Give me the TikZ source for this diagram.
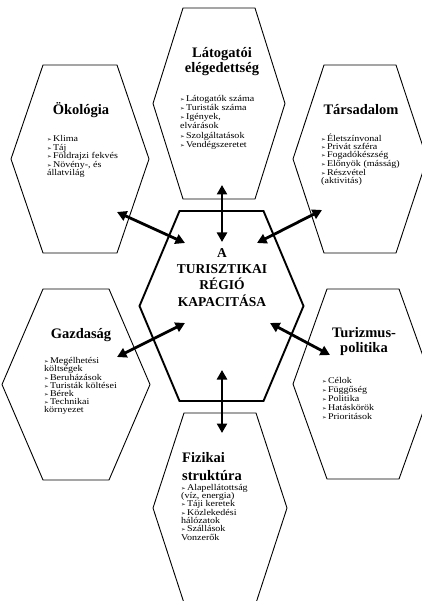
\documentclass[tikz,border=0pt]{standalone}
\usepackage{fontspec}
\setmainfont{Liberation Serif}
\newfontfamily\symfont{DejaVu Sans}
\newfontfamily\itemfont[FakeStretch=1.14]{Liberation Serif}
\usetikzlibrary{arrows.meta}
\newcommand\itm{{\symfont\fontsize{5.5}{5}\selectfont ➢}\hspace{1.2pt}}
\newcommand\hexa[6]{%
  \draw[#1] ({#2-#4},#3) -- ({#2-#5},{#3-#6}) -- ({#2+#5},{#3-#6}) -- ({#2+#4},#3) -- ({#2+#5},{#3+#6}) -- ({#2-#5},{#3+#6}) -- cycle;}
\tikzset{
  hexline/.style={line width=0.9pt, line join=miter},
  hexmain/.style={line width=1.9pt, line join=miter},
  ttl/.style={font=\fontsize{14.5}{15}\selectfont\bfseries, align=center, inner sep=0pt},
  ctr/.style={font=\fontsize{13.5}{16.3}\selectfont\bfseries, align=center, inner sep=0pt},
  items/.style={font=\itemfont\fontsize{8.8}{#1}\selectfont, align=left, inner sep=0pt, anchor=north west},
  link/.style={line width=2.8pt, {Triangle[length=9.5pt,width=10pt]}-{Triangle[length=9.5pt,width=10pt]}},
}
\begin{document}
\begin{tikzpicture}[x=1pt,y=-1pt]
\useasboundingbox (0,0) rectangle (422,601);
\clip (0,0) rectangle (422,601);
\fill[white] (0,0) rectangle (422,601);

% hexagons: cx cy W w H
\hexa{hexline}{219}{103.5}{66}{36}{95.5}
\hexa{hexline}{80}{159}{69}{37}{94}
\hexa{hexline}{360}{159}{67}{36}{94}
\hexa{hexline}{76}{384.5}{74}{33}{95.5}
\hexa{hexline}{363}{384}{70}{36}{95}
\hexa{hexline}{220}{508}{67}{36}{95}
\hexa{hexmain}{221.5}{306}{82}{42}{95}

% centre
\node[ctr, anchor=north] (center) at (222,248) {A\\TURISZTIKAI\\RÉGIÓ\\KAPACITÁSA};

% top
\node[ttl, anchor=north] (latT) at (222,47) {Látogatói\\elégedettség};
\node[items=9.2] (latI) at (180,95) {\itm Látogatók száma\\\itm Turisták száma\\\itm Igények,\\elvárások\\\itm Szolgáltatások\\\itm Vendégszeretet};

% top left
\node[ttl, anchor=base] (okoT) at (81,115) {Ökológia};
\node[items=8.4] (okoI) at (47,135.5) {\itm Klima\\\itm Táj\\\itm Földrajzi fekvés\\\itm Növény-, és\\állatvilág};

% top right
\node[ttl, anchor=base] (tarT) at (361,115) {Társadalom};
\node[items=8.0] (tarI) at (321,134) {\itm Életszínvonal\\\itm Privát szféra\\\itm Fogadókészség\\\itm Előnyök (másság)\\\itm Részvétel\\(aktivitás)};

% bottom left
\node[ttl, anchor=base] (gazT) at (81,338) {Gazdaság};
\node[items=8.1] (gazI) at (44,357.5) {\itm Megélhetési\\költségek\\\itm Beruházások\\\itm Turisták költései\\\itm Bérek\\\itm Technikai\\környezet};

% bottom right
\node[ttl, anchor=north] (turT) at (364,327) {Turizmus-\\politika};
\node[items=9.0] (turI) at (322,377.5) {\itm Célok\\\itm Függőség\\\itm Politika\\\itm Hatáskörök\\\itm Prioritások};

% bottom
\node[ttl, align=left, anchor=north west, font=\fontsize{14.5}{18}\selectfont\bfseries] (fizT) at (182,452) {Fizikai\\struktúra};
\node[items=8.3] (fizI) at (181,484) {\itm Alapellátottság\\(víz, energia)\\\itm Táji keretek\\\itm Közlekedési\\hálózatok\\\itm Szállások\\Vonzerők};

% connectors
\coordinate (tA) at (222,185); \coordinate (tB) at (222,242);
\coordinate (bA) at (222,370); \coordinate (bB) at (222,433);
\coordinate (ulA) at (117,212); \coordinate (ulB) at (185,243);
\coordinate (urA) at (322,210); \coordinate (urB) at (257,243);
\coordinate (llA) at (185,323); \coordinate (llB) at (117,357);
\coordinate (lrA) at (270,323); \coordinate (lrB) at (330,355);
\draw[link] (tA) -- (tB);
\draw[link] (bA) -- (bB);
\draw[link] (ulA) -- (ulB);
\draw[link] (urA) -- (urB);
\draw[link] (llA) -- (llB);
\draw[link] (lrA) -- (lrB);
\end{tikzpicture}
\end{document}
